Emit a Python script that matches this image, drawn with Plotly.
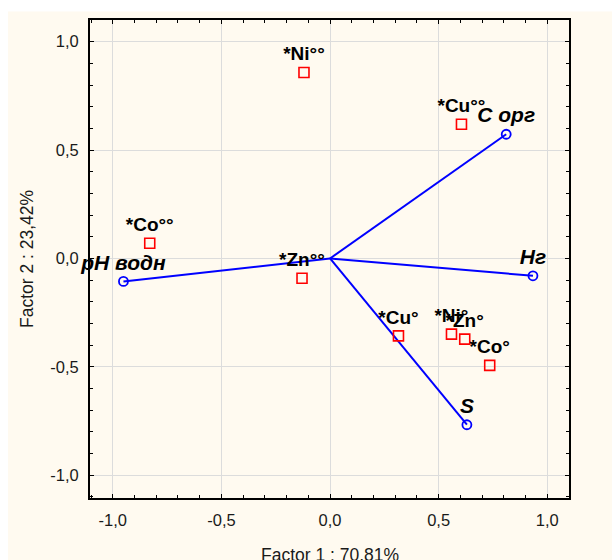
import plotly.graph_objects as go

# Cases (red squares)
case_labels = ["*Ni°°", "*Cu°°", "*Co°°", "*Zn°°", "*Cu°", "*Ni°", "*Zn°", "*Co°"]
case_f1 = [-0.12, 0.605, -0.83, -0.129, 0.315, 0.559, 0.62, 0.735]
case_f2 = [0.858, 0.619, 0.07, -0.091, -0.357, -0.349, -0.372, -0.493]

# Variables (blue vectors)
var_labels = ["C орг", "Нг", "pH водн", "S"]
var_f1 = [0.811, 0.934, -0.951, 0.63]
var_f2 = [0.573, -0.08, -0.106, -0.767]

tick_vals = [-1.0, -0.5, 0.0, 0.5, 1.0]
tick_text = ["-1,0", "-0,5", "0,0", "0,5", "1,0"]

FONT = "Liberation Sans, Arial, sans-serif"

fig = go.Figure()

for lab, x, y in zip(var_labels, var_f1, var_f2):
    fig.add_trace(go.Scatter(
        x=[0, x], y=[0, y], mode="lines",
        line=dict(color="#0000ff", width=2), showlegend=False, hoverinfo="skip"))

fig.add_trace(go.Scatter(
    x=var_f1, y=var_f2, mode="markers+text",
    text=[f"<b><i>{t}</i></b>" for t in var_labels],
    textposition="top center",
    textfont=dict(family=FONT, size=21, color="black"),
    marker=dict(symbol="circle-open", size=9, color="#0000ff", line=dict(width=1.8)),
    cliponaxis=False,
    showlegend=False))

fig.add_trace(go.Scatter(
    x=case_f1, y=case_f2, mode="markers+text",
    text=[f"<b>{t}</b>" for t in case_labels],
    textposition="top center",
    textfont=dict(family=FONT, size=19, color="black"),
    marker=dict(symbol="square-open", size=10, color="#ff0000", line=dict(width=1.6)),
    cliponaxis=False,
    showlegend=False))

axis_common = dict(
    range=[-1.105, 1.1],
    tickvals=tick_vals, ticktext=tick_text,
    ticks="inside", ticklen=4, tickwidth=1, tickcolor="black",
    showline=True, linecolor="black", linewidth=2, mirror="ticks",
    showgrid=True, gridcolor="#dcdcdc", gridwidth=1,
    zeroline=False,
    tickfont=dict(family=FONT, size=16.5, color="#1a1a1a"),
    minor=dict(ticks="inside", ticklen=3, dtick=0.1, tick0=0, tickcolor="black", showgrid=False),
)

fig.update_xaxes(**axis_common, ticklabelstandoff=6)
fig.update_yaxes(**axis_common, ticklabelstandoff=6)

fig.update_layout(
    width=612, height=560,
    margin=dict(l=90, r=43, t=20, b=62),
    paper_bgcolor="white", plot_bgcolor="white",
    font=dict(family=FONT),
    shapes=[dict(type="rect", xref="paper", yref="paper",
                 x0=-0.1712, x1=1.0898, y0=-0.1296, y1=1.0178,
                 fillcolor="#fffaf0", line=dict(width=0), layer="below")],
    annotations=[
        dict(text="Factor 1 : 70,81%", xref="paper", yref="paper", x=0.5, y=-0.119,
             xanchor="center", yanchor="middle", showarrow=False,
             font=dict(family=FONT, size=17.5, color="#1a1a1a")),
        dict(text="Factor 2 : 23,42%", xref="paper", yref="paper", x=-0.1315, y=0.5,
             xanchor="center", yanchor="middle", showarrow=False, textangle=-90,
             font=dict(family=FONT, size=17.5, color="#1a1a1a")),
    ],
)

fig.write_html("out.html")
